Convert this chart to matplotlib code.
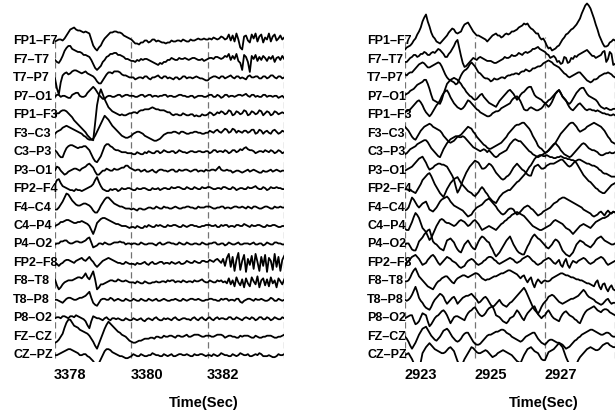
import numpy as np
import matplotlib
matplotlib.use('Agg')
import matplotlib.pyplot as plt
import matplotlib.transforms as mtransforms

plt.rcParams['font.family'] = ['Liberation Sans', 'DejaVu Sans']
plt.rcParams['font.weight'] = 'bold'

# bipolar montage, top to bottom
channels = ['FP1–F7', 'F7–T7', 'T7–P7', 'P7–O1',
            'FP1–F3', 'F3–C3', 'C3–P3', 'P3–O1',
            'FP2–F4', 'F4–C4', 'C4–P4', 'P4–O2',
            'FP2–F8', 'F8–T8', 'T8–P8', 'P8–O2',
            'FZ–CZ', 'CZ–PZ']

fs = 20            # samples per second (downsampled)
start_a = 3377.6   # first window, onset then quiet
start_b = 2922.55  # second window, seizure
ticks_a = [3378, 3380, 3382]
ticks_b = [2923, 2925, 2927]
spacing = 18.45    # vertical offset between channels

# ---- window A ----
a_fp1_f7 = [0, 1, 2, 2, 1, 3, 6, 9, 12, 13, 14, 12, 11, 11, 10, 9, 10, 9, 8, 2,
            -4, -7, -9, -6, -4, 0, 3, 5, 7, 9, 9, 10, 10, 9, 9, 8, 6, 5, 4, 3,
            2, 0, -2, -2, -3, -1, -1, 1, 1, -1, 0, 2, 2, 0, 1, 0, -1, -1, -2, -1,
            -1, 1, 0, 0, 1, 1, 0, 2, 1, 0, 0, 2, 1, 1, 2, 3, 2, 2, 3, 2,
            2, 3, 2, 4, 3, 2, 3, 5, 4, 2, 3, 7, 1, 6, 0, 8, 2, -6, -8, 5,
            6, 1, -1, 7, 3, 8, 0, 5, 7, -1, 4, 2, 8, 0, 5, 7, 1, 3, 6, 2, 4]
a_f7_t7 = [0, -2, -3, 0, 4, 9, 12, 14, 14, 11, 10, 9, 8, 8, 7, 5, 5, 4, 3, 0,
           -4, -8, -10, -8, -6, -2, 0, 3, 4, 6, 6, 7, 7, 5, 5, 4, 3, 1, 1, 0,
           -1, -1, -2, 0, -1, 1, 0, 1, 1, 0, -1, -2, -3, -4, -5, -3, -4, -2, -2, 0,
           0, 2, 1, 0, 0, 2, 1, 1, 2, 1, 0, 1, 2, 2, 1, 0, 0, 1, -1, 0,
           1, 2, 2, 1, 3, 3, 2, 1, 2, 4, 3, 6, 0, 4, 1, 6, -1, -3, -10, 5,
           3, -2, -12, 4, 1, 5, -1, 3, 0, 4, 2, -1, 3, 1, 4, -2, 2, 3, 0, 4, 1]
a_t7_p7 = [0, -10, -16, -4, 3, 5, 6, 4, 5, 7, 8, 8, 7, 6, 5, 6, 7, 5, 4, 3,
           2, 0, -3, -5, -5, -2, 1, 4, 6, 6, 5, 7, 7, 7, 6, 4, 3, 3, 2, 1,
           1, 1, -1, 0, 1, 1, 0, 2, 2, 0, -1, 1, 1, 2, 3, 1, 0, 2, 2, 0,
           1, 0, -1, 1, 1, -1, 0, 2, 2, 0, 1, 1, 0, 1, 2, 1, 0, 0, -1, -2,
           -2, 0, 1, 2, 2, 1, 0, 2, 2, 0, 1, 2, 3, 1, 0, 2, 2, 0, 1, 0,
           -1, 2, 3, 1, 1, 2, 2, 0, 0, 2, 2, 0, 1, 3, 3, 1, 0, 2, 2, 0, 1]
a_p7_o1 = [0, 2, 2, 0, 1, 1, 0, -1, -1, 2, 3, 4, 4, 1, 0, 0, 1, 4, 6, 8,
           10, 8, 5, 2, 0, -2, -2, 0, 1, 1, 0, 0, 1, 2, 2, 0, 1, 2, 2, 1,
           1, 1, 0, 0, 1, 2, 2, 0, 1, 2, 2, 0, 1, 1, 0, 1, 1, 2, 2, 0,
           1, 1, 0, 0, 1, 2, 2, 1, 1, 0, 0, 1, 1, -1, 0, 1, 1, 1, 0, 0,
           1, 2, 2, 0, 0, 2, 1, -1, 0, 2, 2, 0, 1, 1, 0, 1, 2, 2, 1, 2,
           3, 1, 0, 2, 2, 0, 1, 0, 0, 2, 2, 0, 1, 1, 0, 1, 1, -1, 0, 1, -1]
a_fp1_f3 = [0, 2, 2, 4, 5, 5, 4, 2, 0, -2, -5, -7, -9, -11, -13, -15, -17, -20, -22, -24,
            -25, -8, 10, 20, 26, 21, 16, 12, 8, 6, 4, 3, 2, 1, 0, 1, 0, 0, 1, 2,
            2, 3, 3, 2, 4, 5, 5, 6, 6, 6, 7, 8, 7, 6, 6, 5, 5, 5, 4, 3,
            3, 1, 0, 1, 1, 0, 0, 2, 1, 0, 0, 1, 1, -1, 0, -1, -1, 1, 0, 0,
            1, 3, 2, 0, 1, 3, 2, 4, 3, 1, 2, 5, 4, 0, 1, 4, 3, 1, 2, 5,
            4, 0, 1, 4, 3, 1, 2, 5, 4, 0, 2, 4, 3, 0, 1, 4, 3, 1, 2, 3, 2]
a_f3_c3 = [0, 2, 3, 4, 6, 7, 8, 7, 6, 5, 4, 3, 2, 1, 0, -2, -3, -5, -6, -6,
           -5, -2, 2, 6, 10, 14, 18, 16, 14, 11, 8, 6, 4, 2, 0, -2, -3, -4, -4, -3,
           -2, 0, 1, 2, 2, 1, 0, -2, -3, -4, -5, -6, -7, -7, -6, -5, -3, -1, 0, 1,
           1, 1, 2, 2, 1, 0, 2, 2, 1, 0, 0, 1, 1, 2, 2, 1, 1, 0, 0, 1,
           1, 3, 2, 1, 3, 4, 2, 1, 3, 5, 4, 1, 2, 5, 4, 1, 3, 2, 1, 3,
           3, 1, 2, 4, 4, 0, 1, 4, 3, 0, 2, 3, 1, 0, 3, 4, 2, 0, 1, 3, 2]
a_c3_p3 = [2, 0, -3, -5, -5, 0, 4, 6, 7, 7, 6, 5, 4, 5, 5, 6, 6, 4, 2, -2,
           -6, -9, -10, -7, -4, 1, 6, 8, 8, 6, 5, 3, 2, 2, 1, 0, 0, 0, -1, -1,
           -1, -2, -2, 0, -1, -2, -2, 0, -1, 1, 0, -1, -1, 1, 1, -1, 0, 2, 1, 0,
           0, 1, 1, -1, 0, 2, 1, 0, 0, -1, 0, 1, 1, 0, 0, 1, 1, 0, 0, 1,
           1, -1, 0, 2, 2, 0, 1, 1, 0, 2, 1, -1, 0, 2, 2, 0, 1, 3, 2, 4,
           5, 3, 2, 2, 1, -1, 0, 1, 1, 0, 2, 1, 0, 2, 1, -1, 0, 2, 1, -1, 0]
a_p3_o1 = [0, 4, 3, 0, -2, -4, -3, -1, 0, 1, 2, 2, 1, 0, 2, 3, 4, 6, 7, 5,
           3, -1, -4, -4, -2, 0, 0, 2, 1, 0, 0, 2, 1, 1, 2, 3, 3, 5, 5, 3,
           2, 1, 0, 1, 1, -1, 0, 1, -1, -1, 0, 1, -1, -2, 0, 1, 1, 0, 0, -1,
           0, 1, 1, -1, -1, 1, 0, 0, 1, 1, 0, -1, 0, 1, 1, -1, 0, 0, -1, 1,
           0, 0, 1, 1, 0, 2, 4, 1, 0, 0, 1, 0, 0, -2, -1, 0, 0, -1, -2, -1,
           0, 1, -1, 0, 1, 0, -1, -2, -2, 0, -1, -1, 0, 1, -1, 0, 1, 0, -1, 0, 0]
a_fp2_f4 = [5, 9, 10, 6, 3, 2, 1, 0, -1, -1, -2, 0, -1, -1, -2, -1, 0, 1, 2, 3,
            5, 9, 12, 7, 3, 0, -1, -2, -2, 0, -1, 0, 0, -2, -1, 1, 0, 0, 1, 1,
            0, -1, -1, 1, 0, 0, 1, 1, 0, -1, -1, 1, 0, 0, 1, -1, 0, 1, 1, 0,
            0, 2, 1, 1, 2, 2, 1, 0, 0, 2, 1, 0, 0, 2, 1, 0, 0, 2, 1, 1,
            2, 2, 1, 0, 0, 1, 1, 0, 2, 2, 1, 0, 0, 2, 1, -1, 0, 1, 1, 0,
            0, 2, 1, 1, 2, 3, 1, 0, 0, 2, 1, -1, 0, 2, 1, 1, 2, 1, 1, 0, 0]
a_f4_c4 = [-2, -2, 0, 3, 6, 10, 14, 13, 10, 7, 5, 3, 2, 2, 3, 4, 4, 3, 2, 0,
           -3, -5, -5, -2, 2, 5, 8, 10, 10, 8, 6, 4, 3, 2, 1, 1, 0, -1, -1, -1,
           -2, -1, -2, -3, -1, -1, -2, -2, -1, 0, 0, -1, -1, 1, 0, -1, -1, 1, 0, 0,
           -1, -1, 0, 1, 0, -1, -1, 0, 0, 1, 1, 0, 0, -1, -1, 1, 0, 0, 0, 1,
           1, 1, 0, -1, -1, 0, 0, 1, 1, -1, 0, 0, -1, 0, 1, 1, 0, 0, 1, 0,
           -1, 1, 0, -1, 1, 1, 0, -1, -1, 0, 1, 1, 0, -1, -1, 1, 0, 0, 1, 0, 0]
a_c4_p4 = [0, 1, 2, 4, 4, 5, 6, 6, 5, 4, 3, 3, 4, 4, 5, 4, 3, 2, 0, -4,
           -8, -3, 3, 5, 7, 8, 8, 7, 6, 5, 4, 3, 2, 2, 1, 0, 0, 0, -1, -2,
           -1, -1, -2, 0, -1, -2, -2, 0, -1, 1, 0, -1, -1, 1, 0, 1, 0, -1, -1, 1,
           0, 0, 1, 1, 0, -1, -1, 1, 0, -1, 0, 1, 1, 0, 0, -1, -1, 0, 0, 1,
           1, 1, 0, 0, 1, -1, -1, 1, 0, 1, 1, -1, 0, 0, -1, 1, 1, 0, 0, 2,
           1, 0, -1, 1, 0, 0, 1, 1, 0, -1, -1, 1, 0, 0, 1, 1, 0, -1, -1, 0, 0]
a_p4_o2 = [0, 1, 1, 3, 3, 4, 4, 2, 1, 1, 2, 3, 3, 2, 2, 3, 4, 6, 7, 2,
           -3, -2, -1, 1, 1, 0, 2, 1, 0, 0, 1, 2, 2, 2, 3, 2, 2, 0, 1, 1,
           0, 1, 1, 0, 0, 2, 1, 0, 0, 1, 1, 1, 0, -1, 1, 2, 0, 0, 1, 2,
           2, 1, 1, 0, 0, 2, 1, 0, 0, 2, 1, 0, 0, 1, 1, 0, 0, 2, 1, 0,
           0, 1, 1, 2, 2, 0, 0, 1, 1, -1, 0, 2, 1, 0, 0, 1, 2, 0, 0, 1,
           1, 1, 0, 1, 2, 0, 0, 1, 1, -1, 0, 2, 1, 0, 0, 2, 2, 1, 1, 0, 0]
a_fp2_f8 = [-2, -1, -3, -1, 0, 2, 3, 3, 2, 1, 0, 2, 3, 4, 5, 3, 2, 4, 6, 3,
            1, -2, -4, -2, 0, 2, 3, 4, 5, 4, 3, 2, 1, 0, 0, -1, -1, 1, 0, -1,
            -1, -1, -2, 0, -1, -1, 0, 1, -1, -2, 0, 1, -1, -1, 0, 1, 1, -1, 0, 0,
            -1, 1, 0, -1, 0, 1, -1, -1, 0, 2, 1, 0, 0, 2, 1, 0, 0, 2, 2, 1,
            1, 3, 2, 1, 3, 4, 2, 0, 4, -3, 5, 9, -4, 6, -8, 3, 10, -7, 2, 8,
            -9, 4, -2, 7, -6, 9, 1, -8, 6, -3, 8, -9, 5, 2, -7, 9, -4, 6, -8, 3, 7]
a_f8_t8 = [2, -4, -8, -6, -3, -1, 0, 1, 1, 1, 2, 3, 4, 4, 3, 5, 8, 4, 2, 6,
           10, 2, -8, -6, -3, -3, -2, -1, 0, 1, 1, 0, 0, 2, 1, 0, 0, 1, 0, -1,
           -1, -1, -2, 0, -1, -2, -2, 0, -1, -2, -2, -1, -1, 0, -1, -1, 0, 0, -1, 1,
           0, 1, 1, -1, 0, 0, -1, 1, 0, -1, 0, 0, -1, 1, 0, 0, 1, 2, 0, -1,
           -1, 1, 0, -1, -1, 1, 0, 1, -1, 0, -2, 3, -3, 1, -5, 4, -1, -4, 2, -6,
           3, -2, -5, 4, 0, -3, 5, -6, 1, 3, -4, 2, -5, 4, -2, 1, -6, 3, 0, -3, 2]
a_t8_p8 = [0, 0, -1, -2, -3, -1, 1, 2, 2, 1, 0, 0, 1, 2, 2, 3, 4, 6, 8, 2,
           -3, -5, -6, -3, 0, 1, 1, 0, 0, 2, 1, -1, 0, 1, 0, -1, -1, 1, 0, -1,
           -1, 1, 0, -1, -1, 1, 0, -1, -1, 1, 0, -1, 0, 1, -1, -1, 0, 1, 0, -1,
           -1, 0, 0, 1, 0, -1, -1, 1, 0, -1, 0, 1, 1, 0, 0, 1, 0, -1, -1, 0,
           0, 1, 1, 0, 0, -1, -1, 1, 0, 1, 1, -1, 0, 0, -1, 1, 1, -2, -3, -1,
           0, 1, 1, 0, -1, 1, 0, 0, 1, 0, -1, -1, 0, 2, 1, -1, -1, 1, 0, -1, 0]
a_p8_o2 = [0, 1, 1, 0, 2, 2, 1, 0, 2, 2, 1, 3, 2, 1, 0, -1, -3, -7, -10, -3,
           2, 1, 0, 0, -1, -2, 0, 1, -1, -2, 0, 0, -1, 0, -1, -2, -2, 0, -1, -2,
           -2, 0, -1, -2, -1, 0, -2, -3, -1, 0, -1, -2, 0, 1, -1, -2, -2, 0, -1, 0,
           -1, -2, 0, 1, -1, -2, -1, 0, 0, -1, -1, -2, 0, 1, -1, -2, 0, 1, -1, -2,
           0, 1, -1, -2, 0, 1, -1, 0, 0, -1, -1, 1, 1, -1, -1, 1, 0, -1, -2, 0,
           1, 0, -1, 1, 0, -2, -1, 1, 1, -1, -1, 1, 0, -2, -1, 1, 0, -1, -1, 1, 0]
a_fz_cz = [-6, -5, -3, 0, 3, 9, 14, 17, 17, 14, 11, 10, 9, 7, 6, 5, 4, 3, 1, -2,
           -5, -9, -12, -7, -2, 3, 8, 12, 15, 13, 11, 9, 7, 5, 4, 2, 1, 0, -2, -4,
           -5, -6, -6, -5, -4, -4, -3, -2, -2, -2, -1, -1, -2, 0, 0, -1, -1, 1, 0, 0,
           1, 1, 0, -1, 1, 1, 0, 0, 1, 2, 0, 0, 1, 2, 2, 2, 1, 0, 0, 1,
           1, 1, 0, 0, 1, 2, 2, 2, 1, -1, 0, 1, 1, 0, 0, -1, -1, 1, 0, 1,
           1, 1, 0, -1, -1, 1, 0, -1, -1, 0, 0, 1, 1, 1, 0, -1, -1, 0, 0, 1, 2]
a_cz_pz = [0, 0, 1, 2, 3, 4, 5, 6, 6, 5, 4, 3, 2, 0, 0, 1, 1, -1, -2, -4,
           -6, -9, -10, -8, -4, 0, 4, 6, 6, 5, 3, 2, 1, 0, -1, -1, -2, -3, -3, -2,
           -1, 1, 0, -1, -1, 1, 0, -1, -1, 0, 0, 2, 1, 0, 0, -1, -1, 1, 0, -1,
           0, 1, -1, -1, 0, 1, 1, 0, 0, 1, 0, -1, -1, 1, 0, 0, 1, 1, 0, -1,
           0, 0, -1, 1, 0, -1, 0, 2, 1, 0, 0, -1, -1, 1, 0, -1, 0, 2, 1, 0,
           0, 1, -1, -1, 0, 1, 0, 2, 1, -1, -1, -1, 0, -1, -2, -2, -1, 1, 0, 0, 1]

# ---- window B ----
b_fp1_f7 = [-8, -6, -5, -4, -2, 1, 3, 7, 10, 14, 20, 24, 27, 20, 15, 9, 5, 3, 0, -1,
            -2, 0, 2, 4, 6, 9, 11, 13, 12, 9, 8, 9, 10, 14, 17, 18, 19, 16, 13, 10,
            8, 6, 6, 5, 4, 3, 2, 0, 2, 4, 6, 7, 8, 6, 6, 4, 5, 7, 8, 7,
            8, 10, 10, 11, 12, 14, 15, 16, 18, 17, 18, 15, 13, 12, 10, 8, 8, 4, 2, 3,
            0, -4, -7, -6, -9, -8, -7, -5, -4, -1, 2, 4, 7, 8, 10, 12, 13, 15, 17, 20,
            23, 28, 32, 36, 38, 36, 33, 28, 23, 17, 12, 6, 2, -2, -5, -5, -4, -1, 0, 2, 1]
b_f7_t7 = [-2, -2, 0, 2, 3, 5, 5, 3, 4, 6, 6, 8, 7, 5, 5, 7, 8, 7, 9, 11,
           10, 8, 6, 3, 3, 6, 8, 11, 14, 18, 20, 12, 4, -3, -7, -6, -4, -2, 0, 2,
           1, 0, 2, 3, 2, 1, 0, -1, -1, -1, -2, -3, -3, -2, -1, 0, 1, 3, 2, 2,
           3, 5, 4, 4, 5, 7, 6, 5, 7, 8, 7, 8, 9, 11, 11, 12, 13, 11, 10, 9,
           8, 6, 5, 2, 3, 4, 2, -2, -1, -4, -3, 3, 2, -3, -2, 2, 1, 4, 3, 5,
           6, 7, 8, 9, 10, 8, 6, 4, 4, 2, 3, 4, 5, 8, 9, -2, 1, 8, 6, -5, -4]
b_t7_p7 = [4, 3, 5, 6, 6, 8, 10, 12, 14, 15, 16, 15, 13, 11, 11, 12, 13, 14, 15, 16,
           15, 12, 8, 4, 1, -1, -2, -3, -4, -6, -5, -1, 3, 6, 8, 9, 11, 14, 16, 14,
           12, 9, 6, 5, 3, 1, 0, 0, -1, -3, -2, 0, -1, -1, 0, 1, 1, 0, 2, 3,
           3, 4, 4, 5, 5, 4, 6, 7, 7, 9, 8, 7, 8, 10, 10, 11, 12, 12, 13, 15,
           16, 17, 18, 17, 16, 14, 13, 12, 11, 9, 7, 5, 4, 2, 1, 2, 3, 4, 5, 6,
           6, 4, 2, 0, -2, -3, -4, -3, -1, -1, 0, 2, 3, 4, 5, 5, 6, 5, 4, 2, 1]
b_p7_o1 = [2, 3, 4, 6, 7, 8, 10, 12, 13, 14, 15, 17, 17, 13, 8, 2, -3, -4, -5, -6,
           -7, -3, 3, 8, 13, 15, 17, 18, 19, 18, 17, 15, 13, 10, 8, 5, 3, 1, 0, -2,
           -3, -2, 0, 2, 3, 0, -2, -4, -6, -7, -8, -9, -10, -7, -4, -2, 0, 2, 4, 6,
           7, 5, 3, 0, -3, -1, 2, 4, 5, 7, 9, 10, 10, 6, 2, 0, -1, -2, -3, -5,
           -6, -8, -10, -8, -5, -1, 3, 5, 7, 4, 0, -2, -4, -6, -7, -5, -2, 1, 4, 6,
           8, 9, 9, 6, 3, 1, 0, -1, -2, -3, -5, -8, -10, -11, -12, -11, -12, -13, -13, -12, -12]
b_fp1_f3 = [3, 4, 5, 6, 8, 10, 12, 14, 15, 13, 10, 6, 3, 1, -1, 1, 4, 7, 10, 12,
            15, 19, 22, 24, 25, 22, 18, 15, 12, 10, 8, 7, 6, 7, 9, 12, 15, 14, 12, 10,
            8, 6, 5, 3, 2, 1, 0, -1, -1, 0, 2, 3, 4, 4, 5, 7, 8, 9, 10, 11,
            12, 15, 17, 18, 19, 17, 14, 10, 6, 5, 5, 7, 8, 7, 6, 5, 5, 6, 7, 9,
            12, 13, 15, 16, 18, 20, 22, 24, 25, 22, 19, 17, 15, 11, 8, 6, 5, 7, 9, 11,
            12, 10, 8, 6, 5, 6, 6, 5, 5, 4, 5, 4, 3, 2, 2, 1, 1, 0, 0, 1, 0]
b_f3_c3 = [7, 5, 3, 0, -3, -5, -6, -3, 0, 3, 5, 7, 8, 9, 10, 9, 7, 6, 5, 4,
           3, 1, -2, -4, -6, -8, -9, -8, -7, -5, -3, -2, -1, 1, 3, 5, 7, 6, 5, 2,
           0, -3, -5, -7, -9, -11, -12, -14, -15, -15, -14, -13, -12, -11, -10, -9, -7, -5, -3, 0,
           2, 4, 6, 8, 9, 9, 10, 11, 11, 9, 7, 5, 2, -2, -5, -8, -12, -14, -15, -17,
           -19, -18, -17, -15, -13, -11, -9, -6, -3, 0, 2, 4, 6, 8, 10, 11, 11, 9, 7, 4,
           2, 3, 4, 5, 7, 8, 9, 10, 11, 10, 9, 8, 7, 5, 3, 0, -3, -5, -8, -9, -10]
b_c3_p3 = [-2, -1, 1, 3, 4, 5, 6, 8, 9, 10, 11, 12, 12, 10, 7, 4, 2, 0, -2, -4,
           -5, -1, 3, 6, 9, 11, 13, 14, 15, 16, 16, 15, 15, 16, 15, 13, 11, 9, 7, 5,
           4, 3, 2, 1, 2, 3, 2, 0, 2, 0, -2, -4, -5, -4, -2, -1, 0, 1, 2, 5,
           8, 10, 12, 13, 12, 11, 11, 9, 7, 5, 3, 1, 0, -2, -3, -4, -5, -4, -3, -2,
           -1, 0, 2, 4, 6, 8, 9, 7, 5, 2, 0, -2, -3, -4, -5, -4, -2, 0, 2, 4,
           6, 8, 9, 8, 6, 4, 3, 2, 2, 1, 0, -2, -3, -3, -2, -1, -1, 0, -1, -1, 0]
b_p3_o1 = [0, 1, 2, 3, 4, 6, 8, 10, 12, 13, 14, 11, 8, 4, 1, 2, 3, 5, 6, 7,
           7, 6, 6, 5, 4, 1, -2, -5, -9, -16, -22, -19, -15, -10, -6, -2, 1, 4, 6, 8,
           10, 9, 8, 5, 2, 2, 3, 5, 7, 6, 4, 1, -2, -4, -6, -8, -9, -8, -6, -5,
           -3, 0, 3, 5, 7, 5, 3, 1, 0, -2, -4, -5, -5, 0, 4, 5, 6, 4, 2, 2,
           3, 5, 6, 7, 7, 7, 8, 9, 10, 11, 11, 9, 7, 5, 4, 5, 7, 9, 10, 11,
           11, 10, 9, 8, 7, 7, 6, 5, 5, 4, 3, 1, 0, -2, -3, -3, -4, -5, -6, -6, -6]
b_fp2_f4 = [0, 0, -1, -1, -2, -3, -4, -1, 2, 5, 9, 11, 13, 15, 16, 13, 9, 5, 2, -1,
            -4, -6, -8, -4, 0, 3, 6, 8, 10, 11, 12, 9, 6, 4, 2, 0, -2, -3, -4, -6,
            -7, -5, -3, 0, 2, 0, -3, -5, -8, -10, -12, -13, -14, -11, -8, -6, -4, -3, -2, -1,
            -1, 1, 3, 5, 7, 8, 10, 12, 14, 16, 19, 22, 24, 27, 30, 32, 33, 34, 34, 33,
            33, 34, 33, 32, 32, 31, 31, 32, 32, 33, 32, 31, 31, 30, 30, 29, 29, 28, 26, 23,
            20, 17, 14, 12, 10, 8, 7, 5, 3, 1, 0, -2, -3, -4, -4, -2, 0, 2, 4, 5, 6]
b_f4_c4 = [-3, -2, 0, 5, 10, 8, 5, 2, 0, 2, 4, 5, 6, 2, -2, -3, -4, -2, 0, 3,
           6, 8, 9, 10, 11, 9, 6, 4, 2, 1, 0, -1, -2, -3, -5, -7, -9, -8, -7, -4,
           -2, 0, 1, 2, 3, 5, 7, 8, 9, 7, 5, 3, 1, -2, -4, -6, -7, -6, -4, -2,
           -1, -1, -2, -5, -7, -6, -4, -2, 0, 1, 2, 1, -1, -2, -4, -6, -8, -7, -6, -4,
           -3, -2, -1, 0, 2, 4, 5, 6, 8, 9, 10, 10, 9, 8, 7, 6, 5, 4, 3, 2,
           1, 0, -2, -3, -4, -5, -6, -8, -9, -8, -7, -5, -4, -6, -8, -5, -3, -5, -6, -4, -5]
b_c4_p4 = [-3, -4, -4, 0, 4, 9, 13, 11, 8, 3, -2, -4, -6, -10, -14, -12, -8, -4, 0, 3,
           6, 7, 6, 4, 3, 3, 2, 1, 0, 1, 3, 5, 6, 5, 4, 2, 0, 1, 3, 5,
           6, 4, 2, -1, -4, -3, -2, -1, 0, -1, -2, -3, -4, -2, 0, 2, 3, 5, 6, 8,
           9, 11, 12, 13, 14, 13, 12, 11, 10, 8, 6, 4, 2, 0, -1, -2, -3, -4, -4, -3,
           -2, -1, 0, 1, 3, 5, 6, 5, 4, 3, 2, 0, -2, -3, -4, -6, -8, -6, -4, -2,
           0, 1, 2, 1, 0, -1, -2, 0, 2, 4, 5, 6, 7, 8, 8, 9, 10, 12, 13, 14, 14]
b_p4_o2 = [0, 1, 1, -2, -5, -6, -6, -2, 3, 5, 7, 10, 12, 14, 15, 9, 3, 1, 0, -2,
           -4, -5, -6, -1, 4, 5, 6, 4, 2, -2, -5, -7, -8, -4, 0, 2, 4, 1, -2, -4,
           -5, -1, 3, 6, 8, 7, 5, 3, 2, -2, -5, -9, -12, -10, -8, -5, -2, 1, 4, 6,
           8, 4, 0, -3, -6, -8, -9, -10, -10, -6, -2, 1, 5, 8, 10, 8, 6, 5, 3, 1,
           -1, -3, -4, -2, 0, 3, 5, 4, 2, -2, -6, -8, -10, -11, -12, -10, -8, -4, 0, 2,
           4, 3, 2, 0, -1, -2, -3, -1, 1, 4, 6, 7, 8, 6, 4, 3, 2, 1, 0, 0, 1]
b_fp2_f8 = [-3, 0, 2, 4, 6, 7, 8, 6, 4, 1, -2, -1, 0, 3, 5, 7, 8, 6, 3, 0,
            -2, 0, 2, 4, 6, 5, 4, 2, 1, 0, -2, -4, -5, -4, -3, 0, 2, 3, 4, 3,
            1, -1, -2, -1, 0, 2, 3, 5, 6, 6, 5, 3, 2, 0, -1, 0, 1, 2, 3, 4,
            5, 4, 3, 1, 0, 1, 2, 4, 5, 6, 7, 6, 4, 2, 1, -1, -2, -1, 0, 2,
            3, 4, 5, 4, 2, 0, -1, 1, 3, -2, -4, 1, 4, -2, -5, -1, 2, 1, 0, 2,
            3, 4, 5, 4, 2, 0, -1, 0, 1, 3, 4, 5, 6, 5, 3, 0, -2, -1, 0, 1, 2]
b_f8_t8 = [0, 0, 1, 4, 8, 11, 13, 9, 5, 3, 1, -1, -3, -5, -6, -7, -8, -5, -2, 0,
           1, 3, 4, 5, 5, 3, 1, -1, -2, 1, 3, 4, 5, 6, 6, 5, 4, 5, 6, 7,
           8, 8, 7, 5, 3, 2, 1, 2, 2, 3, 4, 5, 5, 6, 7, 8, 8, 9, 10, 11,
           11, 10, 9, 8, 7, 5, 3, 5, 6, 2, -1, 2, 4, -2, -6, -1, 2, 0, -2, 0,
           1, 0, 0, 1, 3, 4, 5, 6, 7, 8, 8, 7, 6, 6, 5, 4, 4, 3, 2, 2,
           1, 1, 0, -1, -2, -2, -3, -4, -5, -1, 1, -5, -8, -3, -2, -7, -10, -6, -4, -8, -9]
b_t8_p8 = [0, -1, 0, 2, 5, 9, 13, 8, 2, -1, -3, -6, -8, -9, -10, -7, -3, 0, 2, 4,
           6, 5, 3, -1, -4, -2, 0, 2, 3, 0, -4, -2, 0, 2, 3, 4, 4, 5, 6, 4,
           2, 0, -3, -2, 0, 2, 3, 1, -2, -5, -7, -6, -4, -2, 0, -3, -5, -6, -7, -5,
           -3, -2, 0, 2, 4, 6, 8, 10, 12, 9, 5, 1, -3, -7, -10, -12, -14, -11, -7, -4,
           -2, 0, 3, 4, 5, 4, 2, 0, -2, -3, -4, -3, -2, -1, 0, 1, 1, 2, 3, 4,
           6, 8, 10, 8, 5, 3, 2, 1, 0, -2, -3, -4, -5, -4, -2, 0, 1, -2, -4, -3, -3]
b_p8_o2 = [0, 1, 2, 3, 3, -2, -6, -5, -3, 1, 5, 4, 3, -3, -8, -6, -3, 0, 2, 3,
           5, 7, 8, 6, 3, -1, -5, -2, 1, 2, 2, 1, 0, -1, -2, 2, 5, 7, 8, 10,
           11, 8, 5, 3, 2, 3, 5, 8, 10, 11, 12, 8, 3, 2, 1, -1, -3, -4, -5, -3,
           0, 1, 2, 5, 8, 6, 3, 0, -2, 2, 5, 7, 9, 11, 12, 8, 4, 2, 0, 2,
           3, 6, 8, 5, 2, 0, -1, -2, -3, 1, 4, 6, 7, 5, 3, 2, 1, -1, -2, -4,
           -5, -1, 3, 6, 8, 9, 10, 11, 12, 10, 8, 7, 6, 8, 9, 9, 8, 6, 5, 4, 3]
b_fz_cz = [0, -2, -5, -9, -12, -9, -6, -2, 2, 5, 8, 9, 10, 7, 4, 1, -1, -3, -4, -2,
           0, 3, 6, 7, 8, 6, 3, 0, -2, -4, -5, -4, -2, 1, 3, 4, 4, 1, -2, -5,
           -7, -8, -8, -7, -5, -3, -1, 1, 2, 2, 3, 4, 5, 5, 6, 7, 7, 6, 4, 3,
           2, 0, -1, -2, -3, -4, -5, -4, -2, 0, 1, 2, 3, 4, 4, 1, -2, -4, -6, -7,
           -8, -6, -4, -3, -3, -4, -5, -6, -6, -7, -8, -10, -12, -11, -10, -8, -6, -4, -3, -1,
           0, 2, 3, 4, 5, 6, 7, 7, 6, 5, 4, 3, 2, 2, 3, 4, 4, 3, 1, 0, 0]
b_cz_pz = [0, 1, 2, -1, -4, -8, -12, -14, -15, -7, 2, 5, 8, 10, 12, 10, 8, 6, 5, 4,
           3, 2, 2, 3, 5, 7, 8, 6, 4, -1, -6, -9, -12, -8, -4, -1, 2, 5, 8, 7,
           5, 3, 2, 2, 3, 4, 5, 4, 2, 0, -2, -1, 0, 2, 3, 4, 5, 4, 3, 2,
           1, 0, -2, -4, -6, -7, -8, -4, 0, 3, 6, 7, 8, 6, 4, 3, 2, -1, -4, -5,
           -5, -1, 3, 4, 5, 6, 8, 10, 12, 10, 8, 3, -2, -6, -9, -12, -15, -12, -9, -5,
           -2, 0, 2, 4, 6, 7, 8, 7, 6, 5, 5, 6, 8, 10, 11, 12, 12, 10, 9, 8, 8]

seg_a = [a_fp1_f7, a_f7_t7, a_t7_p7, a_p7_o1, a_fp1_f3, a_f3_c3,
         a_c3_p3, a_p3_o1, a_fp2_f4, a_f4_c4, a_c4_p4, a_p4_o2,
         a_fp2_f8, a_f8_t8, a_t8_p8, a_p8_o2, a_fz_cz, a_cz_pz]
seg_b = [b_fp1_f7, b_f7_t7, b_t7_p7, b_p7_o1, b_fp1_f3, b_f3_c3,
         b_c3_p3, b_p3_o1, b_fp2_f4, b_f4_c4, b_c4_p4, b_p4_o2,
         b_fp2_f8, b_f8_t8, b_t8_p8, b_p8_o2, b_fz_cz, b_cz_pz]

W, H = 616, 412
fig = plt.figure(figsize=(W / 100, H / 100), dpi=100)


def eeg_panel(left, width, start, traces, ticks, label_x, xlabel_x):
    ax = fig.add_axes([left / W, 50 / H, width / W, 362 / H])
    ax.patch.set_visible(False)
    dur = 6.0

    # 2-second epoch boundaries
    for s in np.arange(0, dur + 0.01, 2):
        ax.vlines(start + s, -316.5, 4.5, colors='0.45', lw=0.9,
                  linestyles=(0, (5, 3)), zorder=1)

    trans = mtransforms.blended_transform_factory(fig.transFigure, ax.transData)
    for i, (name, tr) in enumerate(zip(channels, traces)):
        t = start + np.arange(len(tr)) / fs
        ax.plot(t, -i * spacing + np.asarray(tr, float), color='black',
                lw=1.3, zorder=3)
        ax.text(label_x / W, -i * spacing, name, transform=trans,
                ha='left', va='center', fontsize=9, zorder=2)

    ax.set_xlim(start, start + dur)
    ax.set_ylim(41.5 - 362, 41.5)
    ax.set_xticks(ticks)
    ax.set_xticklabels([str(v) for v in ticks])
    ax.set_yticks([])
    ax.tick_params(axis='x', length=0, pad=4, labelsize=10.5)
    for sp in ax.spines.values():
        sp.set_visible(False)
    fig.text(xlabel_x / W, 1 - 403 / H, 'Time(Sec)', ha='center',
             va='center', fontsize=10.5)
    return ax


eeg_panel(55, 229.2, start_a, seg_a, ticks_a, 13, 204)
eeg_panel(405, 210, start_b, seg_b, ticks_b, 367, 544)

fig.savefig('out.png', dpi=100)
